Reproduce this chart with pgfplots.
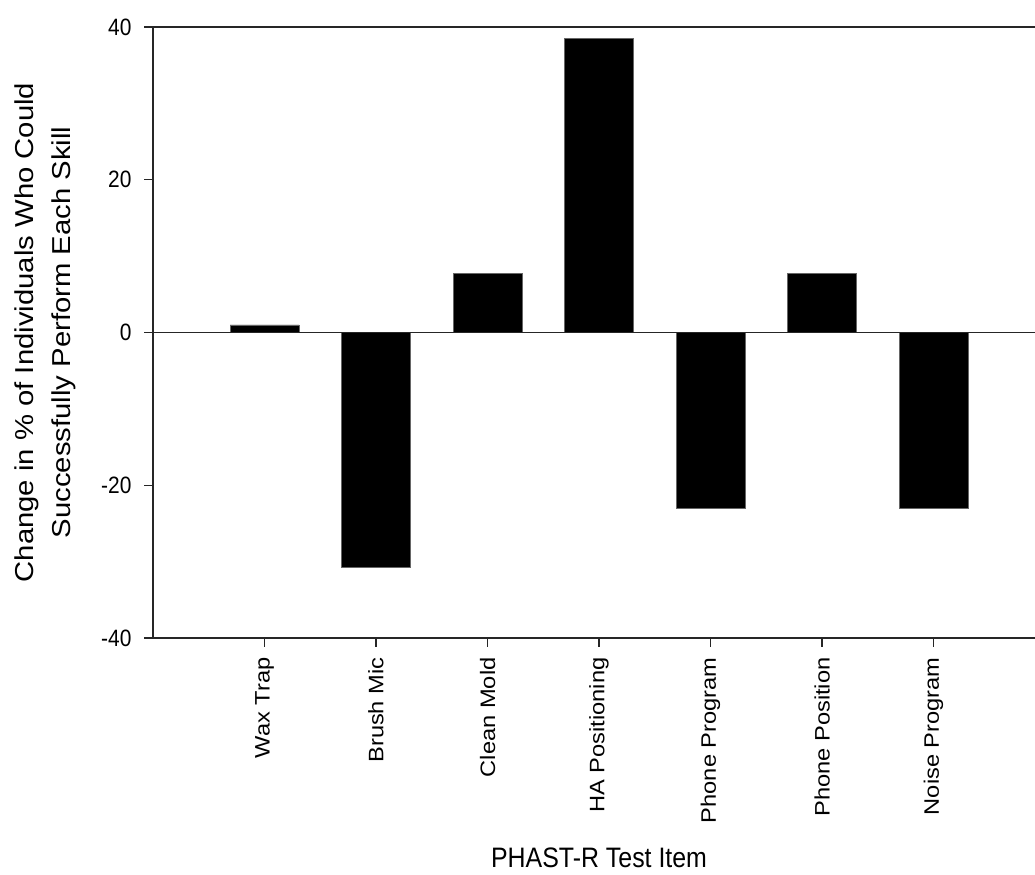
\documentclass[border=0pt]{standalone}
\usepackage{pgfplots}
\pgfplotsset{compat=1.18}
\usepackage{fontspec}
\setmainfont{Liberation Sans}
\newcommand{\vs}[1]{\scalebox{1}[1.13]{#1}}
\newcommand{\hs}[1]{\scalebox{1.13}[1]{#1}}
\begin{document}
\begin{tikzpicture}[x=1bp,y=1bp]
\useasboundingbox (0,0) rectangle (1035,875);
\begin{axis}[
  at={(153bp,237bp)}, anchor=south west,
  scale only axis, width=882bp, height=611bp,
  xmin=0, xmax=7.91, ymin=-40, ymax=40,
  axis x line*=box, axis y line*=left,
  axis line style={line width=1.4bp, black!85},
  tick style={line width=1.4bp, black!85},
  tick align=outside, major tick length=9bp,
  xtick pos=left, ytick pos=left,
  xtick={1,2,3,4,5,6,7},
  xticklabels={\hs{Wax Trap},\hs{Brush Mic},\hs{Clean Mold},\hs{HA Positioning},\hs{Phone Program},\hs{Phone Position},\hs{Noise Program}},
  ytick={-40,-20,0,20,40},
  yticklabels={\vs{-40},\vs{-20},\vs{0},\vs{20},\vs{40}},
  ticklabel style={font=\fontsize{21}{25}\selectfont},
  xticklabel style={yshift=-7bp, rotate=90, anchor=east},
  yticklabel style={xshift=-9bp},
  xlabel={\vs{PHAST-R Test Item}},
  xlabel style={at={(axis description cs:0.5057,-0.376)}, anchor=base, font=\fontsize{25}{30}\selectfont},
  ylabel={\hs{Change in \% of Individuals Who Could}\\[7bp]\hs{Successfully Perform Each Skill}},
  ylabel style={at={(axis description cs:-0.1224,0.5)}, anchor=center, rotate=0, align=center, font=\fontsize{26}{30}\selectfont},
  clip=false,
]
\addplot[ybar, bar width=69bp, fill=black, draw=black!60, line width=0.6bp] coordinates {
  (1,1.0) (2,-30.77) (3,7.69) (4,38.46) (5,-23.08) (6,7.69) (7,-23.08)
};
\draw[line width=1.4bp, black!85] (axis cs:0,0) -- (axis cs:7.91,0);
\end{axis}
\end{tikzpicture}
\end{document}
